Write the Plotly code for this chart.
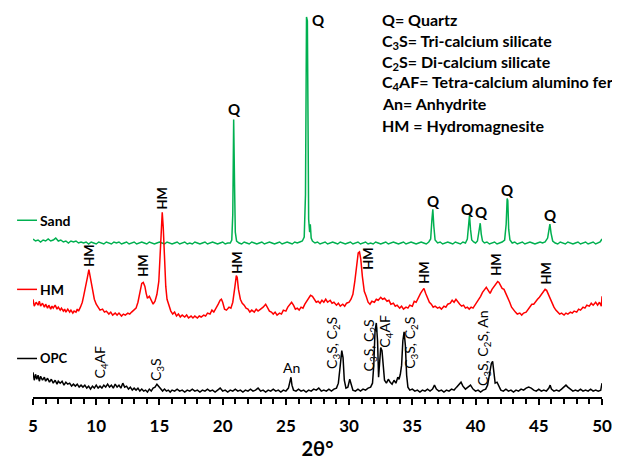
import plotly.graph_objects as go

# ---------------- data ----------------
sand_x = [5.0, 5.2, 5.4, 5.6, 5.8, 6.0, 6.2, 6.4, 6.6, 6.8, 7.0, 7.2, 7.4, 7.6, 7.8, 8.0, 8.2, 8.4, 8.6, 8.8,
          9.0, 9.2, 9.4, 9.6, 9.8, 10.0, 10.2, 10.4, 10.6, 10.8, 11.0, 11.2, 11.4, 11.6, 11.8, 12.0, 12.2, 12.4,
          12.6, 12.8, 13.0, 13.2, 13.4, 13.6, 13.8, 14.0, 14.2, 14.4, 14.6, 14.8, 15.0, 15.2, 15.4, 15.6, 15.8,
          16.0, 16.2, 16.4, 16.6, 16.8, 17.0, 17.2, 17.4, 17.6, 17.8, 18.0, 18.2, 18.4, 18.6, 18.8, 19.0, 19.2,
          19.4, 19.6, 19.8, 20.0, 20.2, 20.4, 20.6, 20.72, 20.8, 20.87, 20.94, 21.0, 21.1, 21.3, 21.5, 21.7, 21.9,
          22.1, 22.3, 22.5, 22.7, 22.9, 23.1, 23.3, 23.5, 23.7, 23.9, 24.1, 24.3, 24.5, 24.7, 24.9, 25.1, 25.3,
          25.5, 25.7, 25.9, 26.1, 26.3, 26.45, 26.55, 26.6, 26.63, 26.7, 26.74, 26.8, 26.88, 26.93, 27.0, 27.1,
          27.3, 27.5, 27.7, 27.9, 28.1, 28.3, 28.5, 28.7, 28.9, 29.1, 29.3, 29.5, 29.7, 29.9, 30.1, 30.3, 30.5,
          30.7, 30.9, 31.1, 31.3, 31.5, 31.7, 31.9, 32.1, 32.3, 32.5, 32.7, 32.9, 33.1, 33.3, 33.5, 33.7, 33.9,
          34.1, 34.3, 34.5, 34.7, 34.9, 35.1, 35.3, 35.5, 35.7, 35.9, 36.1, 36.3, 36.45, 36.55, 36.62, 36.7, 36.8,
          37.0, 37.2, 37.4, 37.6, 37.8, 38.0, 38.2, 38.4, 38.6, 38.8, 39.0, 39.2, 39.35, 39.45, 39.52, 39.6, 39.7,
          39.85, 40.0, 40.15, 40.28, 40.37, 40.45, 40.55, 40.7, 40.9, 41.1, 41.3, 41.5, 41.7, 41.9, 42.1, 42.3,
          42.42, 42.5, 42.55, 42.62, 42.72, 42.9, 43.1, 43.3, 43.5, 43.7, 43.9, 44.1, 44.3, 44.5, 44.7, 44.9,
          45.1, 45.3, 45.5, 45.7, 45.8, 45.88, 45.97, 46.1, 46.3, 46.5, 46.7, 46.9, 47.1, 47.3, 47.5, 47.7, 47.9,
          48.1, 48.3, 48.5, 48.7, 48.9, 49.1, 49.3, 49.5, 49.7, 49.85, 50.0]
sand_y = [5, 3, 4, 2, 4, 3, 5, 3, 4, 6, 3, 4, 2, 3, 1, 3, 2, 3, 1, 2,
          1, 2, 0, 2, 1, 0, 2, 1, 0, 2, 1, 0, 2, 1, 2, 0, 1, 2,
          0, 1, 2, 0, 1, 2, 1, 0, 2, 1, 0, 1, 2, 1, 0, 2, 1,
          0, 1, 2, 0, 1, 2, 0, 1, 0, 2, 1, 0, 1, 2, 0, 1, 2,
          1, 0, 1, 2, 0, 1, 1, 4, 30, 126, 60, 12, 3, 1, 0, 2, 1,
          0, 2, 1, 0, 1, 2, 0, 1, 2, 1, 0, 1, 2, 0, 1, 2, 1,
          0, 2, 1, 2, 3, 7, 50, 160, 230, 226, 120, 25, 12, 20, 6, 3,
          1, 2, 0, 1, 2, 0, 1, 2, 1, 0, 2, 1, 0, 1, 2, 0, 1,
          2, 0, 1, 2, 0, 1, 0, 2, 1, 0, 1, 2, 0, 1, 2, 1, 0,
          1, 2, 0, 1, 2, 1, 0, 1, 2, 1, 0, 2, 5, 25, 35, 18, 4,
          1, 2, 0, 1, 2, 1, 0, 2, 1, 0, 2, 1, 5, 20, 29, 15, 4,
          2, 1, 3, 12, 21, 10, 3, 1, 2, 0, 1, 2, 0, 1, 2, 4,
          20, 46, 44, 15, 4, 1, 2, 0, 1, 2, 0, 1, 2, 1, 0, 1,
          2, 1, 2, 6, 14, 20, 11, 3, 1, 0, 2, 1, 0, 2, 1, 0, 1,
          2, 0, 1, 2, 0, 1, 2, 0, 1, 2, 5]

hm_x = [5.0, 5.1, 5.25, 5.4, 5.5, 5.6, 5.75, 5.9, 6.0, 6.15, 6.25, 6.4, 6.5, 6.6, 6.75, 6.9, 7.0, 7.15, 7.25,
        7.4, 7.5, 7.6, 7.75, 7.9, 8.0, 8.15, 8.25, 8.4, 8.5, 8.6, 8.75, 8.9, 9.0, 9.15, 9.3, 9.42, 9.55, 9.7,
        9.85, 10.0, 10.15, 10.3, 10.5, 10.65, 10.8, 11.0, 11.15, 11.3, 11.5, 11.65, 11.8, 12.0, 12.15, 12.3,
        12.5, 12.65, 12.8, 13.0, 13.15, 13.3, 13.45, 13.6, 13.72, 13.85, 13.95, 14.05, 14.2, 14.35, 14.5, 14.65,
        14.8, 14.95, 15.05, 15.15, 15.22, 15.3, 15.4, 15.5, 15.6, 15.75, 15.9, 16.05, 16.2, 16.35, 16.5, 16.65,
        16.8, 17.0, 17.15, 17.3, 17.5, 17.65, 17.8, 18.0, 18.15, 18.3, 18.5, 18.65, 18.8, 19.0, 19.15, 19.3,
        19.5, 19.65, 19.8, 19.9, 20.0, 20.15, 20.3, 20.5, 20.65, 20.8, 20.95, 21.08, 21.15, 21.25, 21.4, 21.55,
        21.7, 21.85, 22.0, 22.15, 22.3, 22.5, 22.65, 22.8, 23.0, 23.2, 23.4, 23.55, 23.7, 23.85, 24.0, 24.15,
        24.3, 24.5, 24.65, 24.8, 25.0, 25.15, 25.3, 25.45, 25.6, 25.75, 25.9, 26.05, 26.2, 26.35, 26.5, 26.65,
        26.8, 26.95, 27.1, 27.25, 27.4, 27.55, 27.7, 27.85, 28.0, 28.15, 28.3, 28.5, 28.65, 28.8, 29.0, 29.15,
        29.3, 29.5, 29.65, 29.8, 30.0, 30.15, 30.3, 30.45, 30.6, 30.72, 30.82, 30.92, 31.05, 31.2, 31.35, 31.5,
        31.65, 31.8, 32.0, 32.15, 32.3, 32.5, 32.65, 32.8, 33.0, 33.15, 33.3, 33.5, 33.65, 33.8, 34.0, 34.15,
        34.3, 34.5, 34.65, 34.8, 35.0, 35.15, 35.3, 35.5, 35.65, 35.8, 35.92, 36.05, 36.2, 36.35, 36.5, 36.65,
        36.8, 37.0, 37.15, 37.3, 37.5, 37.65, 37.8, 38.0, 38.15, 38.3, 38.45, 38.6, 38.75, 38.9, 39.05, 39.2,
        39.35, 39.5, 39.65, 39.8, 39.95, 40.1, 40.25, 40.4, 40.55, 40.7, 40.85, 41.0, 41.15, 41.3, 41.45, 41.6,
        41.75, 41.85, 41.95, 42.1, 42.25, 42.4, 42.55, 42.7, 42.85, 43.0, 43.15, 43.3, 43.5, 43.65, 43.8, 44.0,
        44.15, 44.3, 44.45, 44.6, 44.75, 44.9, 45.05, 45.2, 45.35, 45.5, 45.62, 45.75, 45.9, 46.05, 46.2, 46.35,
        46.5, 46.65, 46.8, 47.0, 47.15, 47.3, 47.5, 47.65, 47.8, 48.0, 48.15, 48.3, 48.5, 48.65, 48.8, 49.0,
        49.15, 49.3, 49.5, 49.65, 49.8, 49.95, 50.0]
hm_y = [19, 12, 16, 13, 17, 12, 15, 11, 14, 10, 13, 9, 12, 10, 13, 9, 11, 8, 10,
        7, 9, 6, 9, 6, 8, 5, 7, 6, 9, 7, 11, 16, 22, 30, 41, 49, 39, 27,
        19, 14, 11, 8, 9, 6, 7, 4, 6, 3, 5, 3, 5, 2, 4, 3,
        5, 4, 6, 8, 10, 16, 26, 35, 36, 32, 25, 20, 22, 17, 14, 17,
        24, 37, 62, 97, 107, 92, 57, 32, 19, 12, 7, 4, 6, 2, 4, 1,
        3, 1, 3, 0, 2, 0, 2, 0, 2, 1, 3, 2, 5, 4, 8, 6,
        10, 14, 18, 19, 16, 9, 8, 11, 10, 16, 30, 43, 41, 29, 19, 15,
        13, 10, 9, 6, 8, 6, 9, 7, 9, 11, 14, 11, 7, 6, 4, 6,
        3, 5, 4, 8, 7, 11, 13, 16, 13, 9, 10, 8, 11, 10, 14, 17,
        20, 23, 22, 19, 16, 17, 15, 18, 16, 19, 16, 18, 15, 16, 13, 15,
        12, 14, 12, 15, 16, 19, 24, 37, 57, 66, 67, 60, 42, 27, 22, 16,
        14, 17, 16, 19, 18, 21, 19, 20, 17, 18, 14, 15, 12, 13, 10, 12,
        9, 11, 10, 13, 12, 17, 16, 22, 25, 28, 30, 25, 21, 16, 14, 11,
        12, 10, 11, 9, 12, 11, 14, 15, 18, 16, 19, 16, 14, 12, 13, 10,
        11, 9, 11, 10, 13, 15, 19, 22, 26, 29, 31, 28, 25, 29, 32, 35,
        37, 36, 33, 30, 29, 25, 21, 16, 11, 8, 6, 4, 5, 3, 5, 6,
        9, 11, 14, 14, 17, 19, 21, 24, 26, 29, 28, 24, 19, 15, 11, 8,
        6, 4, 5, 3, 5, 4, 6, 5, 7, 6, 9, 8, 11, 10, 13, 12,
        15, 13, 16, 13, 16, 12, 22]

opc_x = [5.0, 5.1, 5.2, 5.3, 5.4, 5.5, 5.6, 5.75, 5.9, 6.0, 6.15, 6.3, 6.45, 6.6, 6.75, 6.9, 7.0, 7.15, 7.3,
         7.45, 7.6, 7.75, 7.9, 8.05, 8.2, 8.35, 8.5, 8.65, 8.8, 8.95, 9.1, 9.25, 9.4, 9.55, 9.7, 9.85, 10.0,
         10.15, 10.3, 10.45, 10.6, 10.75, 10.9, 11.05, 11.2, 11.35, 11.5, 11.65, 11.8, 11.95, 12.1, 12.25, 12.4,
         12.55, 12.7, 12.85, 13.0, 13.15, 13.3, 13.45, 13.6, 13.75, 13.9, 14.05, 14.2, 14.35, 14.5, 14.65, 14.8,
         14.95, 15.1, 15.25, 15.4, 15.55, 15.7, 15.85, 16.0, 16.2, 16.4, 16.6, 16.8, 17.0, 17.2, 17.4, 17.6,
         17.8, 18.0, 18.2, 18.4, 18.6, 18.8, 19.0, 19.2, 19.4, 19.6, 19.8, 20.0, 20.2, 20.4, 20.6, 20.8, 21.0,
         21.2, 21.4, 21.6, 21.8, 22.0, 22.2, 22.4, 22.6, 22.8, 23.0, 23.2, 23.4, 23.6, 23.8, 24.0, 24.2, 24.4,
         24.6, 24.8, 25.0, 25.2, 25.32, 25.4, 25.48, 25.6, 25.8, 26.0, 26.2, 26.4, 26.6, 26.8, 27.0, 27.2,
         27.4, 27.6, 27.8, 28.0, 28.2, 28.4, 28.6, 28.8, 29.0, 29.15, 29.3, 29.42, 29.52, 29.62, 29.75, 29.9,
         30.05, 30.15, 30.3, 30.5, 30.7, 30.9, 31.1, 31.3, 31.5, 31.7, 31.85, 31.95, 32.05, 32.15, 32.25, 32.33,
         32.4, 32.5, 32.6, 32.7, 32.8, 32.95, 33.1, 33.25, 33.4, 33.55, 33.7, 33.85, 33.95, 34.05, 34.15, 34.25,
         34.35, 34.45, 34.55, 34.65, 34.8, 35.0, 35.2, 35.4, 35.6, 35.8, 36.0, 36.2, 36.4, 36.6, 36.75, 36.9,
         37.1, 37.3, 37.5, 37.7, 37.9, 38.1, 38.3, 38.5, 38.7, 38.85, 39.0, 39.2, 39.4, 39.6, 39.8, 40.0, 40.2,
         40.4, 40.6, 40.8, 40.95, 41.1, 41.25, 41.35, 41.45, 41.55, 41.7, 41.85, 42.0, 42.2, 42.4, 42.6, 42.8,
         43.0, 43.2, 43.4, 43.6, 43.8, 44.0, 44.2, 44.4, 44.6, 44.8, 45.0, 45.2, 45.4, 45.6, 45.8, 45.9, 46.0,
         46.2, 46.4, 46.6, 46.8, 47.0, 47.15, 47.3, 47.5, 47.7, 47.9, 48.1, 48.3, 48.5, 48.7, 48.9, 49.1, 49.3,
         49.5, 49.7, 49.9, 50.0]
opc_y = [20, 12, 18, 13, 17, 11, 16, 12, 15, 11, 14, 10, 13, 9, 12, 8, 11, 9, 11,
         7, 10, 8, 9, 6, 8, 6, 8, 5, 7, 5, 7, 4, 6, 3, 6, 4, 7,
         4, 6, 4, 7, 5, 8, 5, 7, 4, 8, 5, 7, 4, 9, 5, 6,
         3, 5, 2, 4, 2, 4, 1, 3, 1, 2, 0, 3, 1, 4, 5, 8,
         6, 3, 1, 3, 1, 2, 0, 2, 1, 3, 1, 2, 0, 2, 1, 3,
         1, 2, 0, 2, 1, 3, 1, 2, 0, 2, 4, 1, 2, 0, 2, 1, 3,
         1, 2, 0, 2, 1, 3, 1, 2, 4, 1, 2, 0, 2, 1, 3, 1, 2,
         0, 2, 1, 4, 11, 15, 7, 2, 1, 3, 1, 2, 0, 2, 1, 3,
         2, 4, 1, 2, 1, 3, 1, 3, 4, 9, 27, 42, 35, 12, 4, 5,
         13, 8, 2, 1, 3, 1, 3, 2, 4, 5, 9, 27, 62, 70, 52, 15,
         27, 45, 42, 25, 12, 9, 13, 10, 8, 12, 9, 15, 13, 18, 27, 52,
         61, 47, 17, 5, 2, 3, 1, 2, 0, 2, 1, 3, 1, 3, 7, 3,
         1, 2, 0, 2, 1, 3, 2, 5, 8, 10, 6, 3, 5, 7, 3, 1, 2,
         0, 2, 3, 7, 17, 29, 31, 22, 9, 10, 5, 2, 1, 3, 1, 2,
         0, 2, 1, 3, 2, 4, 5, 4, 2, 1, 3, 1, 2, 1, 4, 7, 3,
         1, 2, 1, 3, 5, 7, 5, 3, 1, 2, 1, 3, 1, 2, 1, 3, 1,
         2, 1, 2, 9]

series_names = ["Sand", "HM", "OPC"]
series_offsets = [155, 80, 5]          # vertical stacking of the patterns
series_colors = ["#00B050", "#FF0000", "#000000"]

# peak labels: (2theta, label y)
q_peaks = [(20.9, 292), (27.55, 382), (36.65, 199), (39.39, 190), (40.5, 187), (42.52, 210), (45.96, 184)]
hm_peaks = [(9.43, 143), (13.7, 133), (15.2, 201), (21.14, 136), (31.5, 140), (35.93, 126), (41.63, 134), (45.56, 125)]
opc_peaks = [
    (10.3, 35, "C<sub>4</sub>AF", -90),
    (14.78, 28, "C<sub>3</sub>S", -90),
    (25.41, 30, "An", 0),
    (28.74, 55, "C<sub>3</sub>S, C<sub>2</sub>S", -90),
    (31.63, 52, "C<sub>3</sub>S, C<sub>2</sub>S", -90),
    (32.9, 67, "C<sub>4</sub>AF", -90),
    (34.9, 55, "C<sub>3</sub>S, C<sub>2</sub>S", -90),
    (40.62, 50, "C<sub>3</sub>S, C<sub>2</sub>S, An", -90),
]
key_lines = [
    "Q= Quartz",
    "C<sub>3</sub>S= Tri-calcium silicate",
    "C<sub>2</sub>S= Di-calcium silicate",
    "C<sub>4</sub>AF= Tetra-calcium alumino ferrite",
    "An= Anhydrite",
    "HM = Hydromagnesite",
]
key_y = [382, 360, 339, 319, 297, 275]
x_ticks = [5, 10, 15, 20, 25, 30, 35, 40, 45, 50]

FONT = "Lato"

fig = go.Figure()
for name, xs, ys, off, col in zip(series_names, [sand_x, hm_x, opc_x], [sand_y, hm_y, opc_y],
                                  series_offsets, series_colors):
    fig.add_trace(go.Scatter(x=xs, y=[v + off for v in ys], mode="lines", name=name,
                             line=dict(color=col, width=1.5), showlegend=False))

ann = []
# side labels (legend-like)
side_y = [179, 109, 39]
side_size = [14, 14, 13]
for name, y, col, sz in zip(series_names, side_y, series_colors, side_size):
    fig.add_shape(type="line", xref="paper", yref="y", x0=-0.028, x1=0.007, y0=y, y1=y,
                  line=dict(color=col, width=1.5))
    ann.append(dict(x=0.008, y=y, xref="paper", yref="y", text=name, showarrow=False,
                    xanchor="left", yanchor="middle",
                    font=dict(family=FONT, size=sz, color="black", weight="bold")))

for x, y in q_peaks:
    ann.append(dict(x=x, y=y, text="Q", showarrow=False, xanchor="center", yanchor="middle",
                    font=dict(family=FONT, size=15, color="black", weight="bold")))
for x, y in hm_peaks:
    ann.append(dict(x=x, y=y, text="HM", showarrow=False, textangle=-90, xanchor="center", yanchor="middle",
                    font=dict(family=FONT, size=13, color="black", weight="bold")))
for x, y, t, ang in opc_peaks:
    ann.append(dict(x=x, y=y, text=t, showarrow=False, textangle=ang, xanchor="center", yanchor="middle",
                    font=dict(family=FONT, size=14, color="black")))
for t, y in zip(key_lines, key_y):
    ann.append(dict(x=0.610, y=y, xref="paper", yref="y", text=t, showarrow=False,
                    xanchor="left", yanchor="middle",
                    font=dict(family=FONT, size=16, color="black", weight="bold")))

# the page body adds an 8px margin, so the figure is 612x452 placed at (8, 8)
fig.update_layout(
    width=612, height=452,
    margin=dict(l=25, r=18, t=0, b=58),
    paper_bgcolor="white", plot_bgcolor="white",
    annotations=ann,
    xaxis=dict(range=[5, 50], tickvals=x_ticks, ticktext=[str(v) for v in x_ticks],
               showline=True, linecolor="black", linewidth=2, showgrid=False, zeroline=False,
               ticks="outside", ticklen=6, tickwidth=2, tickcolor="black", ticklabeloverflow="allow",
               ticklabelstandoff=7,
               minor=dict(dtick=1, ticks="outside", ticklen=5, tickwidth=1.5, tickcolor="black"),
               tickfont=dict(family=FONT, size=17, color="black", weight="bold"),
               title=dict(text="2θ°", font=dict(family=FONT, size=20, color="black", weight="bold"),
                          standoff=10)),
    yaxis=dict(range=[0, 394], visible=False, fixedrange=True),
)

fig.write_html("out.html")
